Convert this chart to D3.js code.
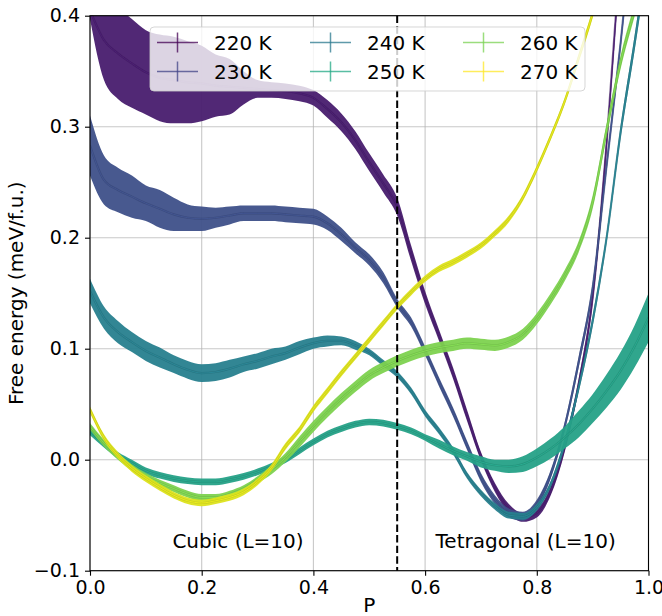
<!DOCTYPE html>
<html><head><meta charset="utf-8">
<script src="https://cdn.jsdelivr.net/npm/d3@7"></script>
<style>body{margin:0;background:#fff}svg{display:block}text{font-family:"DejaVu Sans",sans-serif}</style>
</head><body><svg id="c" width="662" height="616"></svg>
<script>
const P = [0,0.025,0.05,0.075,0.1,0.125,0.15,0.175,0.2,0.225,0.25,0.275,0.3,0.325,0.35,0.375,0.4,0.425,0.45,0.475,0.5,0.525,0.55,0.575,0.6,0.625,0.65,0.675,0.7,0.725,0.75,0.775,0.8,0.825,0.85,0.875,0.9,0.925,0.95,0.975,1.0];
const labels = ["220 K","230 K","240 K","250 K","260 K","270 K"];
const colors = ["#440154","#414487","#2a788e","#22a884","#7ad151","#fde725"];
const bandColors = ["#481c6e","#3e5089","#277f8e","#25a187","#7dd24f","#dde31c"];
const F220 = [0.405,0.378,0.366,0.357,0.349,0.344,0.342,0.340,0.339,0.337,0.336,0.335,0.334,0.333,0.332,0.330,0.326,0.316,0.304,0.288,0.268,0.249,0.228,0.186,0.146,0.112,0.078,0.040,0.003,-0.025,-0.044,-0.052,-0.048,-0.028,0.012,0.068,0.146,0.285,0.460,0.65,0.85];
const E220 = [0.008,0.036,0.041,0.040,0.038,0.039,0.039,0.037,0.034,0.028,0.025,0.015,0.008,0.007,0.007,0.007,0.007,0.008,0.008,0.008,0.008,0.008,0.008,0.007,0.006,0.005,0.005,0.005,0.004,0.004,0.004,0.004,0.004,0.004,0.005,0.005,0.006,0.007,0.008,0.009,0.010];
const F230 = [0.283,0.252,0.243,0.237,0.231,0.226,0.221,0.218,0.217,0.218,0.220,0.222,0.222,0.222,0.221,0.220,0.219,0.213,0.203,0.191,0.180,0.164,0.141,0.124,0.098,0.070,0.043,0.013,-0.016,-0.036,-0.048,-0.051,-0.040,-0.013,0.030,0.088,0.155,0.265,0.375,0.50,0.64];
const E230 = [0.027,0.022,0.020,0.019,0.016,0.017,0.015,0.012,0.011,0.009,0.008,0.007,0.007,0.007,0.007,0.007,0.007,0.006,0.006,0.005,0.005,0.005,0.004,0.004,0.004,0.004,0.004,0.004,0.004,0.004,0.004,0.004,0.004,0.004,0.004,0.005,0.005,0.006,0.006,0.007,0.008];
const F240 = [0.152,0.128,0.115,0.106,0.098,0.092,0.086,0.081,0.078,0.079,0.082,0.086,0.089,0.093,0.096,0.101,0.105,0.107,0.107,0.103,0.097,0.087,0.077,0.062,0.042,0.026,0.008,-0.014,-0.030,-0.042,-0.050,-0.051,-0.043,-0.022,0.015,0.065,0.125,0.200,0.295,0.375,0.46];
const E240 = [0.011,0.010,0.010,0.009,0.009,0.009,0.008,0.008,0.008,0.008,0.008,0.007,0.007,0.007,0.006,0.006,0.005,0.005,0.004,0.004,0.003,0.003,0.003,0.003,0.003,0.003,0.003,0.003,0.003,0.003,0.003,0.003,0.003,0.003,0.004,0.004,0.005,0.005,0.006,0.007,0.008];
const F250 = [0.026,0.014,0.004,-0.003,-0.010,-0.014,-0.017,-0.019,-0.020,-0.020,-0.018,-0.015,-0.011,-0.006,0.000,0.008,0.016,0.023,0.028,0.032,0.034,0.033,0.030,0.026,0.020,0.014,0.008,0.003,-0.002,-0.005,-0.006,-0.004,0.002,0.010,0.020,0.032,0.046,0.062,0.080,0.102,0.128];
const E250 = [0.004,0.003,0.003,0.003,0.003,0.003,0.003,0.003,0.003,0.003,0.003,0.003,0.003,0.003,0.003,0.003,0.003,0.003,0.003,0.003,0.003,0.003,0.003,0.003,0.003,0.004,0.004,0.004,0.005,0.005,0.006,0.007,0.008,0.009,0.010,0.012,0.013,0.015,0.017,0.019,0.022];
const F260 = [0.030,0.015,0.003,-0.007,-0.015,-0.021,-0.026,-0.031,-0.034,-0.034,-0.031,-0.026,-0.018,-0.009,0.002,0.016,0.030,0.043,0.055,0.066,0.076,0.083,0.089,0.094,0.098,0.101,0.103,0.105,0.104,0.103,0.106,0.113,0.127,0.145,0.166,0.192,0.232,0.297,0.358,0.405,0.45];
const E260 = [0.003,0.003,0.003,0.003,0.003,0.003,0.003,0.003,0.003,0.003,0.003,0.003,0.003,0.004,0.004,0.005,0.005,0.005,0.005,0.005,0.005,0.005,0.005,0.005,0.005,0.005,0.005,0.005,0.005,0.005,0.005,0.005,0.005,0.005,0.005,0.005,0.006,0.006,0.006,0.006,0.006];
const F270 = [0.045,0.020,0.004,-0.008,-0.017,-0.025,-0.032,-0.037,-0.039,-0.037,-0.034,-0.029,-0.020,-0.007,0.012,0.027,0.046,0.062,0.078,0.093,0.108,0.123,0.138,0.151,0.163,0.172,0.178,0.185,0.193,0.204,0.217,0.236,0.262,0.291,0.323,0.362,0.402,0.45,0.50,0.55,0.60];
const E270 = [0.003,0.003,0.003,0.003,0.003,0.003,0.003,0.003,0.003,0.003,0.003,0.003,0.003,0.003,0.003,0.003,0.003,0.003,0.003,0.003,0.003,0.003,0.003,0.003,0.003,0.003,0.003,0.003,0.003,0.003,0.003,0.003,0.003,0.003,0.003,0.004,0.004,0.004,0.004,0.004,0.004];
const xTicks = [0,0.2,0.4,0.6,0.8,1.0];
const xTickLabels = ["0.0","0.2","0.4","0.6","0.8","1.0"];
const yTicks = [-0.1,0,0.1,0.2,0.3,0.4];
const yTickLabels = ["\u22120.1","0.0","0.1","0.2","0.3","0.4"];
const vLine = 0.55;
const annotations = [{t:"Cubic (L=10)",p:0.265},{t:"Tetragonal (L=10)",p:0.78}];

const series = [F220,F230,F240,F250,F260,F270].map((f,i)=>({name:labels[i],color:colors[i],band:bandColors[i],f,e:[E220,E230,E240,E250,E260,E270][i]}));

const svg = d3.select("#c");
const L=90,R=648.5,T=15.7,B=570.7;
const x = d3.scaleLinear([0,1],[L,R]);
const y = d3.scaleLinear([-0.1,0.4],[B,T]);
const FS = 20, TFS = 19;

svg.append("defs").append("clipPath").attr("id","clip").append("rect")
  .attr("x",L).attr("y",T).attr("width",R-L).attr("height",B-T);

// grid
const grid = svg.append("g").attr("stroke","#b0b0b0").attr("stroke-width",1.1).attr("stroke-opacity",0.7);
xTicks.forEach(v=>grid.append("line").attr("x1",x(v)).attr("x2",x(v)).attr("y1",T).attr("y2",B));
yTicks.forEach(v=>grid.append("line").attr("x1",L).attr("x2",R).attr("y1",y(v)).attr("y2",y(v)));

const plot = svg.append("g").attr("clip-path","url(#clip)");
const area = d3.area().x(d=>x(d.p)).y0(d=>y(d.c-d.e)).y1(d=>y(d.c+d.e)).curve(d3.curveMonotoneX);
const line = d3.line().x(d=>x(d.p)).y(d=>y(d.c)).curve(d3.curveMonotoneX);
series.forEach(s=>{
  const pts = P.map((p,i)=>({p,c:s.f[i],e:s.e[i]}));
  const col = d3.color(s.band);
  plot.append("path").attr("d",area(pts)).attr("fill",s.band).attr("fill-opacity",0.95);
  plot.append("path").attr("d",line(pts)).attr("fill","none").attr("stroke",col.darker(0.5)).attr("stroke-width",2.2).attr("stroke-opacity",0.6);
  plot.append("path").attr("d",line(pts)).attr("fill","none").attr("stroke",col.brighter(0.4)).attr("stroke-width",0.9).attr("stroke-opacity",0.7);
});

// dashed line
svg.append("line").attr("x1",x(vLine)).attr("x2",x(vLine)).attr("y1",T).attr("y2",B)
  .attr("stroke","#000").attr("stroke-width",2).attr("stroke-dasharray","7.4,3.2");

// annotations
annotations.forEach(a=>svg.append("text").attr("x",x(a.p)).attr("y",548).attr("text-anchor","middle")
  .attr("font-size",FS).attr("fill","#000").text(a.t));

// axes
const ax = svg.append("g").attr("transform",`translate(0,${B})`)
  .call(d3.axisBottom(x).tickValues(xTicks).tickFormat((d,i)=>xTickLabels[i]).tickSize(5).tickPadding(5));
const ay = svg.append("g").attr("transform",`translate(${L},0)`)
  .call(d3.axisLeft(y).tickValues(yTicks).tickFormat((d,i)=>yTickLabels[i]).tickSize(5).tickPadding(5));
[ax,ay].forEach(g=>{g.select(".domain").remove();g.selectAll("text").attr("font-size",TFS).attr("font-family","DejaVu Sans").attr("fill","#000");g.selectAll("line").attr("stroke","#000").attr("stroke-width",1.1);});
svg.append("rect").attr("x",L).attr("y",T).attr("width",R-L).attr("height",B-T).attr("fill","none").attr("stroke","#000").attr("stroke-width",1.1);

svg.append("text").attr("x",x(0.5)).attr("y",612).attr("text-anchor","middle").attr("font-size",FS).text("P");
svg.append("text").attr("transform",`translate(23,${(T+B)/2}) rotate(-90)`).attr("text-anchor","middle")
  .attr("font-size",FS).text("Free energy (meV/f.u.)");

// legend
const lg = svg.append("g");
lg.append("rect").attr("x",150).attr("y",27).attr("width",435).attr("height",64).attr("rx",4)
  .attr("fill","#fff").attr("fill-opacity",0.8).attr("stroke","#cccccc").attr("stroke-opacity",0.8);
const colX=[157,310,463], rowY=[42.5,71.5];
series.forEach((s,i)=>{
  const cx=colX[Math.floor(i/2)], cy=rowY[i%2];
  const g=lg.append("g").attr("stroke",s.color).attr("stroke-opacity",0.75).attr("stroke-width",1.5);
  g.append("line").attr("x1",cx).attr("x2",cx+41).attr("y1",cy).attr("y2",cy);
  g.append("line").attr("x1",cx+20.5).attr("x2",cx+20.5).attr("y1",cy-10).attr("y2",cy+10);
  lg.append("text").attr("x",cx+57).attr("y",cy).attr("dominant-baseline","central").attr("font-size",FS).text(s.name);
});
</script></body></html>
